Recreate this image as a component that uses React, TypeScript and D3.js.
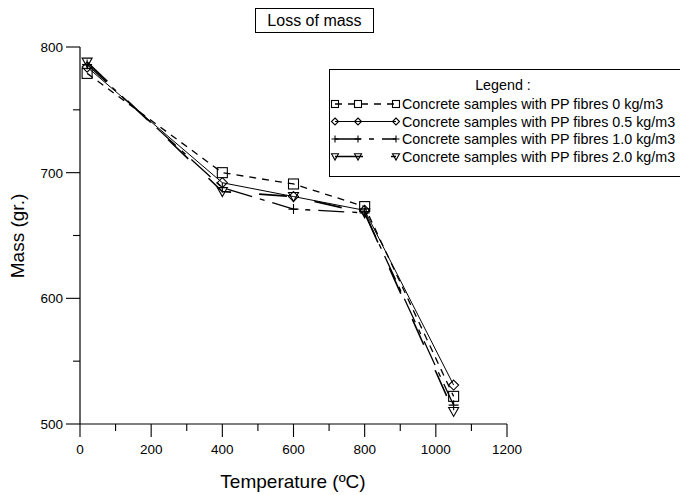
import React from "react";
import * as d3 from "d3";

const temps = [20, 400, 600, 800, 1050];
const seriesNames = [
  "Concrete samples with PP fibres 0 kg/m3",
  "Concrete samples with PP fibres 0.5 kg/m3",
  "Concrete samples with PP fibres 1.0 kg/m3",
  "Concrete samples with PP fibres 2.0 kg/m3",
];
const mass0 = [779, 700, 691, 673, 522];
const mass05 = [784, 692, 681, 670, 531];
const mass10 = [786, 688, 671, 668, 515];
const mass20 = [788, 685, 681, 668, 510];
const xTicks = [0, 200, 400, 600, 800, 1000, 1200];
const yTicks = [500, 600, 700, 800];

const allSeries = [mass0, mass05, mass10, mass20];
const dashes = ["7,6", "", "26,8,5,8", "28,28"];
const widths = [1.3, 1, 1.3, 1.6];
const markers = ["square", "diamond", "plus", "triangle"];

function Marker({ type, x, y, r = 5 }: { type: string; x: number; y: number; r?: number }) {
  const s = "#000";
  if (type === "square")
    return <rect x={x - r} y={y - r} width={2 * r} height={2 * r} fill="none" stroke={s} strokeWidth={1.1} />;
  if (type === "diamond")
    return (
      <path d={`M${x},${y - r}L${x + r},${y}L${x},${y + r}L${x - r},${y}Z`} fill="none" stroke={s} strokeWidth={1.1} />
    );
  if (type === "plus")
    return <path d={`M${x - r},${y}H${x + r}M${x},${y - r}V${y + r}`} fill="none" stroke={s} strokeWidth={1.1} />;
  return (
    <path d={`M${x - r},${y - r * 0.8}L${x + r},${y - r * 0.8}L${x},${y + r}Z`} fill="none" stroke={s} strokeWidth={1.1} />
  );
}

export default function App() {
  const W = 680, H = 495;
  const x = d3.scaleLinear().domain([0, 1200]).range([80, 507]);
  const y = d3.scaleLinear().domain([500, 800]).range([424, 47]);
  const line = d3
    .line<[number, number]>()
    .x((d) => x(d[0]))
    .y((d) => y(d[1]));
  const minorX = d3.range(100, 1200, 200);
  const minorY = [550, 650, 750];
  const font = "'Liberation Sans', Arial, sans-serif";
  const legendRows = [104, 121.5, 139, 156.5];
  return (
    <svg width={W} height={H} style={{ position: "absolute", left: 0, top: 0, background: "#fff" }} fontFamily={font}>
      <rect x={0} y={0} width={W} height={H} fill="#fff" />
      {/* title */}
      <rect x={255.5} y={8.5} width={118} height={24} fill="#fff" stroke="#000" strokeWidth={1} />
      <text x={314.5} y={26} textAnchor="middle" fontSize={16}>Loss of mass</text>
      {/* axes */}
      <line x1={80} x2={80} y1={y(800)} y2={y(500)} stroke="#000" strokeWidth={1.2} />
      <line x1={80} x2={x(1200)} y1={424} y2={424} stroke="#000" strokeWidth={1.2} />
      {yTicks.map((t) => (
        <g key={"y" + t}>
          <line x1={66} x2={80} y1={y(t)} y2={y(t)} stroke="#000" strokeWidth={1.1} />
          <text x={63} y={y(t) + 5} textAnchor="end" fontSize={13.5}>{t}</text>
        </g>
      ))}
      {minorY.map((t) => (
        <line key={"my" + t} x1={73} x2={80} y1={y(t)} y2={y(t)} stroke="#000" strokeWidth={1.1} />
      ))}
      {xTicks.map((t) => (
        <g key={"x" + t}>
          <line x1={x(t)} x2={x(t)} y1={424} y2={437} stroke="#000" strokeWidth={1.1} />
          <text x={x(t)} y={454} textAnchor="middle" fontSize={13.5}>{t}</text>
        </g>
      ))}
      {minorX.map((t) => (
        <line key={"mx" + t} x1={x(t)} x2={x(t)} y1={424} y2={431} stroke="#000" strokeWidth={1.1} />
      ))}
      <text x={293} y={488} textAnchor="middle" fontSize={19}>Temperature (ºC)</text>
      <text transform="translate(24,236) rotate(-90)" textAnchor="middle" fontSize={19}>Mass (gr.)</text>
      {/* data */}
      {allSeries.map((vals, i) => {
        const pts = temps.map((t, j) => [t, vals[j]] as [number, number]);
        return (
          <g key={"s" + i}>
            <path d={line(pts) || ""} fill="none" stroke="#000" strokeWidth={widths[i]} strokeDasharray={dashes[i] || undefined} />
            {pts.map((p, j) => (
              <Marker key={j} type={markers[i]} x={x(p[0])} y={y(p[1])} />
            ))}
          </g>
        );
      })}
      {/* legend */}
      <rect x={329.5} y={69.5} width={360} height={107} fill="#fff" stroke="#000" strokeWidth={1} />
      <text x={503} y={90} textAnchor="middle" fontSize={14.3}>Legend :</text>
      {seriesNames.map((n, i) => (
        <g key={"l" + i}>
          <line x1={335} x2={396} y1={legendRows[i]} y2={legendRows[i]} stroke="#000" strokeWidth={widths[i]} strokeDasharray={dashes[i] || undefined} />
          <Marker type={markers[i]} x={335} y={legendRows[i]} r={3.5} />
          <Marker type={markers[i]} x={358} y={legendRows[i]} r={3.5} />
          <Marker type={markers[i]} x={396} y={legendRows[i]} r={3.5} />
          <text x={402} y={legendRows[i] + 5} fontSize={14.3}>{n}</text>
        </g>
      ))}
    </svg>
  );
}
